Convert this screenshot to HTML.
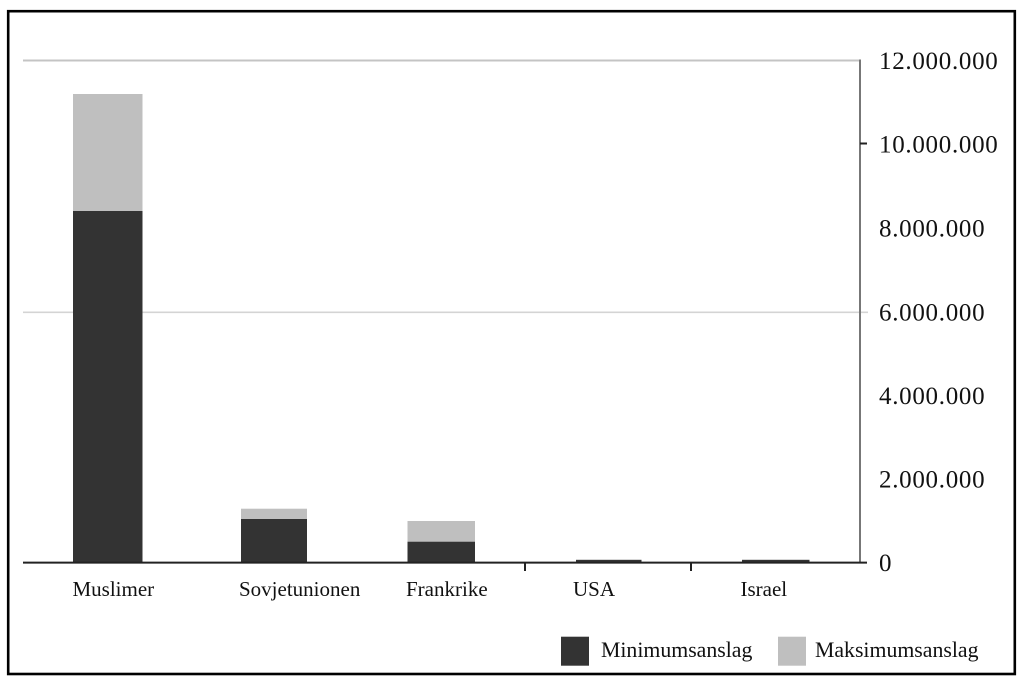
<!DOCTYPE html>
<html>
<head>
<meta charset="utf-8">
<style>
  html,body{margin:0;padding:0;background:#fff;}
  svg{display:block;}
  text{font-family:"Liberation Serif", serif; fill:#111;}
</style>
</head>
<body>
<svg width="1022" height="683" viewBox="0 0 1022 683" xmlns="http://www.w3.org/2000/svg">
  <rect x="0" y="0" width="1022" height="683" fill="#fff"/>
  <!-- frame -->
  <rect x="8.2" y="11.2" width="1006.6" height="462.8" fill="none" stroke="none"/>
  <rect x="8.2" y="11.2" width="1006.6" height="662.8" fill="none" stroke="#000" stroke-width="2.6"/>

  <!-- gridlines -->
  <line x1="23" y1="60.5" x2="860" y2="60.5" stroke="#c4c4c4" stroke-width="2"/>
  <line x1="23" y1="312.3" x2="868" y2="312.3" stroke="#d4d4d4" stroke-width="1.6"/>

  <!-- bars -->
  <!-- Muslimer -->
  <rect x="73" y="94" width="69.5" height="117" fill="#bfbfbf"/>
  <rect x="73" y="211" width="69.5" height="351.5" fill="#333"/>
  <!-- Sovjetunionen -->
  <rect x="241" y="508.7" width="66" height="10.5" fill="#bfbfbf"/>
  <rect x="241" y="519" width="66" height="43.5" fill="#333"/>
  <!-- Frankrike -->
  <rect x="407.5" y="521" width="67.5" height="20.8" fill="#bfbfbf"/>
  <rect x="407.5" y="541.7" width="67.5" height="20.8" fill="#333"/>
  <!-- USA -->
  <rect x="576" y="559.8" width="65.5" height="3" fill="#333"/>
  <!-- Israel -->
  <rect x="742" y="559.8" width="67.5" height="3" fill="#333"/>

  <!-- axes -->
  <line x1="860" y1="59.5" x2="860" y2="563" stroke="#777" stroke-width="2"/>
  <line x1="23" y1="562.6" x2="867" y2="562.6" stroke="#222" stroke-width="2"/>
  <line x1="860" y1="143.5" x2="867" y2="143.5" stroke="#222" stroke-width="2"/>
  <line x1="525" y1="562" x2="525" y2="571" stroke="#222" stroke-width="2"/>
  <line x1="691" y1="562" x2="691" y2="571" stroke="#222" stroke-width="2"/>

  <!-- y labels -->
  <g font-size="25" letter-spacing="0.7">
    <text x="879" y="69">12.000.000</text>
    <text x="879" y="152.7">10.000.000</text>
    <text x="879" y="236.4">8.000.000</text>
    <text x="879" y="320.6">6.000.000</text>
    <text x="879" y="404">4.000.000</text>
    <text x="879" y="487.5">2.000.000</text>
    <text x="879" y="571">0</text>
  </g>

  <!-- x labels -->
  <g font-size="21">
    <text x="72.5" y="596">Muslimer</text>
    <text x="239" y="596">Sovjetunionen</text>
    <text x="406" y="596">Frankrike</text>
    <text x="573" y="596">USA</text>
    <text x="740.5" y="596">Israel</text>
  </g>

  <!-- legend -->
  <rect x="561" y="636.7" width="28" height="29" fill="#333"/>
  <text x="601" y="657" font-size="21.8">Minimumsanslag</text>
  <rect x="778" y="636.7" width="28" height="29" fill="#bfbfbf"/>
  <text x="815" y="657" font-size="21.8">Maksimumsanslag</text>
</svg>
</body>
</html>
